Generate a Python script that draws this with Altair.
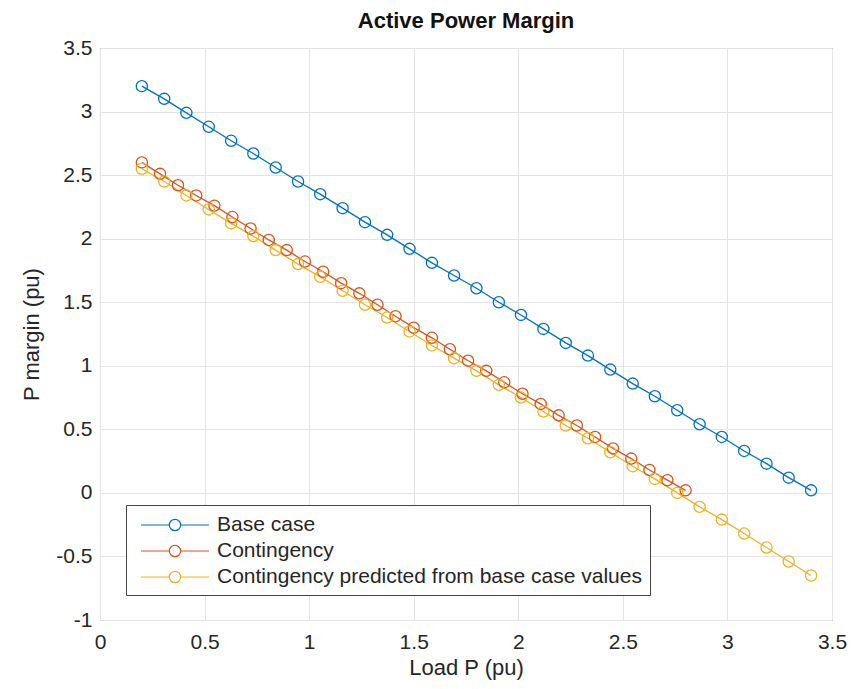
import altair as alt
import pandas as pd

series_names = ["Base case", "Contingency", "Contingency predicted from base case values"]
series_colors = ["#0072BD", "#D95319", "#EDB120"]

base_x = [0.2, 0.307, 0.413, 0.52, 0.627, 0.733, 0.84, 0.947, 1.053, 1.16, 1.267,
          1.373, 1.48, 1.587, 1.693, 1.8, 1.907, 2.013, 2.12, 2.227, 2.333, 2.44,
          2.547, 2.653, 2.76, 2.867, 2.973, 3.08, 3.187, 3.293, 3.4]
base_y = [3.2, 3.1, 2.99, 2.88, 2.77, 2.67, 2.56, 2.45, 2.35, 2.24, 2.13,
          2.03, 1.92, 1.81, 1.71, 1.61, 1.50, 1.40, 1.29, 1.18, 1.08, 0.97,
          0.86, 0.76, 0.65, 0.54, 0.44, 0.33, 0.23, 0.12, 0.02]

cont_x = [0.2, 0.287, 0.373, 0.46, 0.547, 0.633, 0.72, 0.807, 0.893, 0.98, 1.067,
          1.153, 1.24, 1.327, 1.413, 1.5, 1.587, 1.673, 1.76, 1.847, 1.933, 2.02,
          2.107, 2.193, 2.28, 2.367, 2.453, 2.54, 2.627, 2.713, 2.8]
cont_y = [2.6, 2.51, 2.42, 2.34, 2.26, 2.17, 2.08, 1.99, 1.91, 1.82, 1.74,
          1.65, 1.57, 1.48, 1.39, 1.30, 1.22, 1.13, 1.04, 0.96, 0.87, 0.78,
          0.70, 0.61, 0.53, 0.44, 0.35, 0.27, 0.18, 0.10, 0.02]

pred_x = [0.2, 0.307, 0.413, 0.52, 0.627, 0.733, 0.84, 0.947, 1.053, 1.16, 1.267,
          1.373, 1.48, 1.587, 1.693, 1.8, 1.907, 2.013, 2.12, 2.227, 2.333, 2.44,
          2.547, 2.653, 2.76, 2.867, 2.973, 3.08, 3.187, 3.293, 3.4]
pred_y = [2.55, 2.45, 2.34, 2.23, 2.12, 2.02, 1.91, 1.80, 1.70, 1.59, 1.48,
          1.38, 1.27, 1.16, 1.06, 0.96, 0.85, 0.75, 0.64, 0.53, 0.43, 0.32,
          0.21, 0.11, 0.0, -0.11, -0.21, -0.32, -0.43, -0.54, -0.65]

x_ticks = [0, 0.5, 1, 1.5, 2, 2.5, 3, 3.5]
y_ticks = [-1, -0.5, 0, 0.5, 1, 1.5, 2, 2.5, 3, 3.5]

rows = []
for name, xs, ys in zip(series_names, [base_x, cont_x, pred_x], [base_y, cont_y, pred_y]):
    for xv, yv in zip(xs, ys):
        rows.append({"series": name, "x": xv, "y": yv})
df = pd.DataFrame(rows)

FONT = "Liberation Sans"
# horizontal line with an open circle in the middle (MATLAB-style legend sample)
sym_path = "M-3,0H-0.5M0.5,0H3M0.5,0A0.5,0.5,0,1,1,-0.5,0A0.5,0.5,0,1,1,0.5,0"

legend = alt.Legend(
    title=None, orient="none", legendX=26, legendY=457,
    symbolType=sym_path, symbolSize=514, symbolStrokeWidth=1.2,
    symbolFillColor="transparent", symbolOffset=29,
    labelFont=FONT, labelFontSize=21, labelColor="#262626", labelOffset=30,
    rowPadding=4, padding=8, fillColor="white", strokeColor="#444",
    labelLimit=700,
)

color = alt.Color("series:N", sort=series_names,
                  scale=alt.Scale(domain=series_names, range=series_colors),
                  legend=legend)

xenc = alt.X("x:Q", scale=alt.Scale(domain=[0, 3.5], nice=False),
             axis=alt.Axis(title="Load P (pu)", values=x_ticks, labelFlush=False,
                           labelExpr="'' + datum.value"))
yenc = alt.Y("y:Q", scale=alt.Scale(domain=[-1, 3.5], nice=False),
             axis=alt.Axis(title="P margin (pu)", values=y_ticks, labelFlush=False,
                           labelExpr="'' + datum.value"))

lines = alt.Chart(df).mark_line(strokeWidth=1.3).encode(x=xenc, y=yenc, color=color)
points = alt.Chart(df).mark_point(filled=False, size=125, strokeWidth=1.3, opacity=1).encode(
    x=xenc, y=yenc, color=color)

chart = alt.layer(lines, points).properties(
    width=732, height=572,
    title=alt.Title("Active Power Margin", font=FONT, fontSize=22, fontWeight="bold",
                    color="#111", offset=4),
    autosize=alt.AutoSizeParams(type="none"),
    padding={"left": 92, "top": 40, "right": 20, "bottom": 61},
).configure_view(stroke="#555", strokeWidth=1).configure_axis(
    grid=True, gridColor="#e3e3e3", gridWidth=1, domain=False, ticks=False,
    labelFont=FONT, labelFontSize=21, labelColor="#262626",
    titleFont=FONT, titleFontSize=22, titleColor="#262626", titleFontWeight="normal",
).configure_axisY(titlePadding=12, labelPadding=8).configure_axisX(titlePadding=5, labelPadding=11)

chart.save("out.html", embed_options={"renderer": "svg", "actions": False})
